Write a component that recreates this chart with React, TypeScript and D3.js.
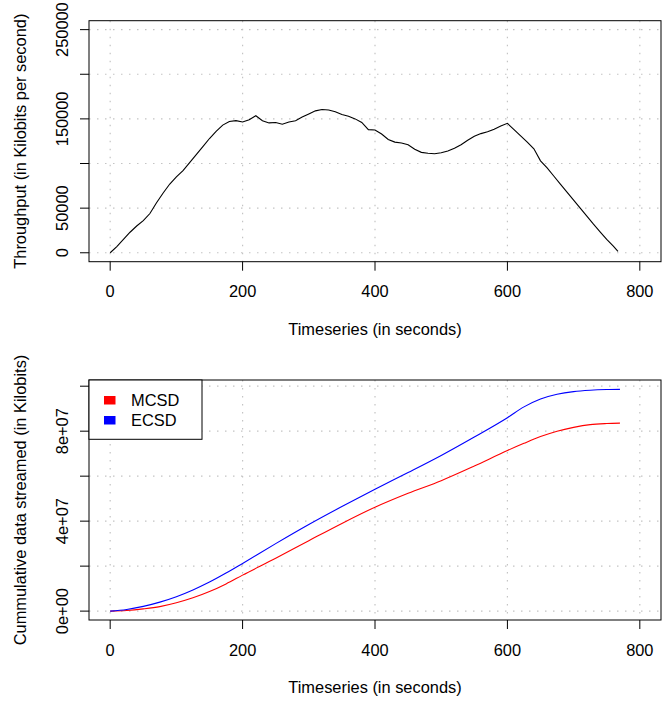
import React, { useEffect, useRef } from "react";
import * as d3 from "d3";

// throughput (Kilobits per second), read every 10 s
const throughputTime = [
  0, 10, 20, 30, 40, 50, 60, 70, 80, 90, 100, 110, 120, 130, 140, 150, 160, 170, 180, 190,
  200, 210, 220, 230, 240, 250, 260, 270, 280, 290, 300, 310, 320, 330, 340, 350, 360, 370,
  380, 390, 400, 410, 420, 430, 440, 450, 460, 470, 480, 490, 500, 510, 520, 530, 540, 550,
  560, 570, 580, 590, 600, 610, 620, 630, 640, 650, 660, 670, 680, 690, 700, 710, 720, 730,
  740, 750, 760, 767,
];
const throughput = [
  0, 7000, 15000, 23000, 30000, 36000, 44000, 56000, 67000, 77000, 85000, 92000, 101000,
  110000, 119000, 128000, 136000, 143000, 147000, 148000, 146500, 149000, 153500, 148000,
  145500, 146000, 144000, 146500, 148000, 152000, 155500, 159000, 160500, 160000, 158000,
  155000, 153000, 150000, 146000, 138000, 137500, 133000, 127000, 124000, 123000, 121000,
  116000, 112500, 111500, 111000, 112000, 114000, 117000, 121000, 126000, 130500, 133500,
  135500, 138500, 142000, 145000, 138000, 131000, 124000, 116500, 103000, 95000, 86000,
  77000, 68000, 59000, 50000, 41000, 32000, 23500, 15000, 7500, 1500,
];

// cumulative data streamed (Kilobits)
const cumTime = [0, 25, 50, 75, 100, 125, 150, 175, 200, 250, 300, 350, 400, 450, 500, 550, 600, 625, 650, 675, 700, 725, 750, 770];
const ecsd = [0, 0.07e7, 0.21e7, 0.4e7, 0.64e7, 0.94e7, 1.29e7, 1.69e7, 2.12e7, 3.0e7, 3.85e7, 4.65e7, 5.42e7, 6.16e7, 6.92e7, 7.74e7, 8.6e7, 9.08e7, 9.43e7, 9.64e7, 9.76e7, 9.82e7, 9.85e7, 9.86e7];
const mcsd = [0, 0.03e7, 0.1e7, 0.2e7, 0.37e7, 0.59e7, 0.87e7, 1.21e7, 1.6e7, 2.35e7, 3.13e7, 3.9e7, 4.62e7, 5.24e7, 5.8e7, 6.45e7, 7.14e7, 7.46e7, 7.76e7, 8.0e7, 8.17e7, 8.29e7, 8.34e7, 8.36e7];

const seriesNames = ["MCSD", "ECSD"];
const seriesColors = ["#ff0000", "#0000ff"];

const xTicks = [0, 200, 400, 600, 800];
const topYTicks = [0, 50000, 100000, 150000, 200000, 250000];
const topYLabels = ["0", "50000", "", "150000", "", "250000"];
const botYTicks = [0, 2e7, 4e7, 6e7, 8e7, 1e8];
const botYLabels = ["0e+00", "", "4e+07", "", "8e+07", ""];

const FONT = "'Liberation Sans', Arial, sans-serif";
const FS = 16.4;

const App = () => {
  const ref = useRef<SVGSVGElement>(null);

  useEffect(() => {
    if (!ref.current) return;
    const svg = d3.select(ref.current);
    svg.selectAll("*").remove();

    const left = 89;
    const right = 661;
    const x = d3.scaleLinear().domain([-32, 832]).range([left, right]);

    // one R-style panel: grid, box, axes, titles
    const panel = (top, bottom, yDomain, yTicks, yLabels, yTitle) => {
      const y = d3.scaleLinear().domain(yDomain).range([bottom, top]);
      const g = svg.append("g");

      const grid = g.append("g")
        .attr("stroke", "#c4c4c4")
        .attr("stroke-width", 1.2)
        .attr("stroke-dasharray", "1.5,6.5");
      grid.selectAll(".vg").data(xTicks).enter().append("line")
        .attr("x1", (d) => x(d)).attr("x2", (d) => x(d))
        .attr("y1", top).attr("y2", bottom);
      grid.selectAll(".hg").data(yTicks).enter().append("line")
        .attr("x1", left).attr("x2", right)
        .attr("y1", (d) => y(d)).attr("y2", (d) => y(d));

      g.append("rect")
        .attr("x", left).attr("y", top)
        .attr("width", right - left).attr("height", bottom - top)
        .attr("fill", "none").attr("stroke", "#000").attr("stroke-width", 1);

      // x axis
      g.selectAll(".xt").data(xTicks).enter().append("line")
        .attr("x1", (d) => x(d)).attr("x2", (d) => x(d))
        .attr("y1", bottom).attr("y2", bottom + 9)
        .attr("stroke", "#000");
      g.selectAll(".xl").data(xTicks).enter().append("text")
        .attr("x", (d) => x(d)).attr("y", bottom + 35.5)
        .attr("text-anchor", "middle")
        .attr("font-family", FONT).attr("font-size", FS)
        .text((d) => d);
      g.append("text")
        .attr("x", (left + right) / 2).attr("y", bottom + 73)
        .attr("text-anchor", "middle")
        .attr("font-family", FONT).attr("font-size", FS)
        .text("Timeseries (in seconds)");

      // y axis
      g.selectAll(".yt").data(yTicks).enter().append("line")
        .attr("x1", left - 9).attr("x2", left)
        .attr("y1", (d) => y(d)).attr("y2", (d) => y(d))
        .attr("stroke", "#000");
      g.selectAll(".yl").data(yTicks).enter().append("text")
        .attr("transform", (d) => `translate(68,${y(d)}) rotate(-90)`)
        .attr("text-anchor", "middle")
        .attr("font-family", FONT).attr("font-size", FS)
        .text((d, i) => yLabels[i]);
      g.append("text")
        .attr("transform", `translate(26,${(top + bottom) / 2}) rotate(-90)`)
        .attr("text-anchor", "middle")
        .attr("font-family", FONT).attr("font-size", FS)
        .text(yTitle);

      return y;
    };

    // top: throughput
    const yTop = panel(20.7, 261.7, [-10000, 260000], topYTicks, topYLabels, "Throughput (in Kilobits per second)");
    const line1 = d3.line<number>()
      .x((d, i) => x(throughputTime[i]))
      .y((d) => yTop(d));
    svg.append("path")
      .attr("d", line1(throughput))
      .attr("fill", "none").attr("stroke", "#000").attr("stroke-width", 1.1);

    // bottom: cumulative
    const yBot = panel(380, 620, [-3.952e6, 1.02752e8], botYTicks, botYLabels, "Cummulative data streamed (in Kilobits)");
    const line2 = d3.line<number>()
      .x((d, i) => x(cumTime[i]))
      .y((d) => yBot(d))
      .curve(d3.curveMonotoneX);
    [mcsd, ecsd].forEach((s, i) => {
      svg.append("path")
        .attr("d", line2(s))
        .attr("fill", "none").attr("stroke", seriesColors[i]).attr("stroke-width", 1.1);
    });

    // legend
    const lg = svg.append("g");
    lg.append("rect")
      .attr("x", left).attr("y", 380).attr("width", 113).attr("height", 59.3)
      .attr("fill", "#fff").attr("stroke", "#000");
    seriesNames.forEach((name, i) => {
      lg.append("rect")
        .attr("x", 104).attr("y", 396 + i * 20)
        .attr("width", 11.5).attr("height", 8.5)
        .attr("fill", seriesColors[i]);
      lg.append("text")
        .attr("x", 131).attr("y", 406 + i * 19.5)
        .attr("font-family", FONT).attr("font-size", FS)
        .text(name);
    });
  }, []);

  return (
    <svg
      ref={ref}
      width={670}
      height={704}
      style={{ position: "absolute", left: 0, top: 0, background: "#fff" }}
    ></svg>
  );
};

export default App;
